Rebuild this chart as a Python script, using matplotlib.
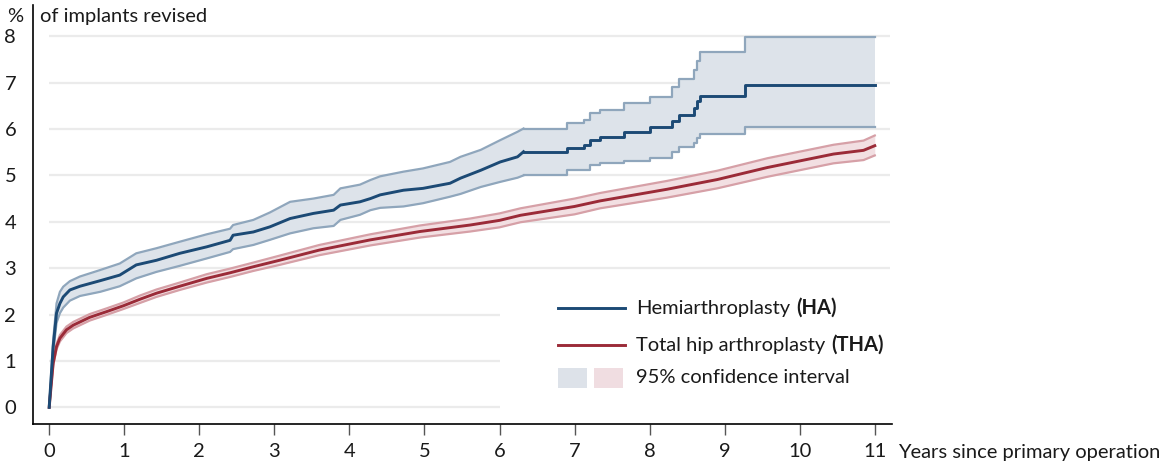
import matplotlib
matplotlib.use("Agg")
import matplotlib.pyplot as plt
from matplotlib.patches import Rectangle

plt.rcParams['font.family'] = ['Lato', 'DejaVu Sans']

# Hemiarthroplasty (HA): curve with 95% CI (coarse steps late in follow-up)
ha_years = [0, 0.053, 0.098, 0.143, 0.187, 0.276, 0.41, 0.68, 0.94, 1.16,
            1.43, 1.74, 2.1, 2.41, 2.45, 2.72, 2.94, 3.21, 3.52, 3.79,
            3.88, 4.14, 4.28, 4.41, 4.72, 4.98, 5.34, 5.48, 5.75, 6.01,
            6.24, 6.32, 6.9, 7.12, 7.2, 7.34, 7.66, 8.0, 8.3, 8.39,
            8.59, 8.63, 8.67, 9.27, 11.0]
ha_mid = [0, 1.31, 2.03, 2.24, 2.38, 2.53, 2.61, 2.73, 2.85, 3.07,
          3.17, 3.32, 3.46, 3.6, 3.71, 3.78, 3.89, 4.07, 4.18, 4.25,
          4.36, 4.43, 4.5, 4.58, 4.68, 4.72, 4.83, 4.94, 5.11, 5.29,
          5.4, 5.51, 5.58, 5.65, 5.76, 5.83, 5.94, 6.05, 6.17, 6.3,
          6.45, 6.6, 6.72, 6.94, 6.94]
ha_upper = [0, 1.45, 2.24, 2.49, 2.6, 2.72, 2.82, 2.96, 3.1, 3.32,
            3.43, 3.57, 3.73, 3.85, 3.93, 4.04, 4.2, 4.43, 4.5, 4.58,
            4.72, 4.8, 4.9, 4.98, 5.08, 5.15, 5.29, 5.4, 5.55, 5.76,
            5.94, 6.01, 6.12, 6.19, 6.35, 6.42, 6.57, 6.7, 6.9, 7.07,
            7.27, 7.46, 7.67, 7.98, 7.98]
ha_lower = [0, 1.17, 1.82, 2.03, 2.15, 2.3, 2.4, 2.49, 2.61, 2.78,
            2.92, 3.05, 3.21, 3.35, 3.41, 3.5, 3.61, 3.75, 3.86, 3.91,
            4.04, 4.15, 4.25, 4.3, 4.33, 4.4, 4.54, 4.6, 4.75, 4.86,
            4.95, 5.0, 5.11, 5.11, 5.22, 5.27, 5.3, 5.38, 5.5, 5.61,
            5.7, 5.81, 5.9, 6.05, 6.05]
ha_step_from = 6.32   # from here on the estimate is drawn as visible steps

# Total hip arthroplasty (THA)
tha_years = [0, 0.053, 0.098, 0.143, 0.23, 0.32, 0.54, 0.76, 0.99, 1.21,
             1.43, 1.74, 2.1, 2.41, 2.72, 3.07, 3.6, 4.28, 4.94, 5.61,
             6.0, 6.28, 7.0, 7.34, 8.23, 8.9, 9.57, 10.45, 10.85, 11.0]
tha_mid = [0, 0.95, 1.31, 1.49, 1.67, 1.77, 1.94, 2.06, 2.19, 2.33,
           2.46, 2.61, 2.78, 2.9, 3.03, 3.17, 3.39, 3.61, 3.79, 3.93,
           4.03, 4.14, 4.33, 4.45, 4.7, 4.91, 5.17, 5.46, 5.54, 5.64]
tha_upper = [0, 1.0, 1.37, 1.56, 1.74, 1.84, 2.01, 2.13, 2.26, 2.41,
             2.54, 2.69, 2.87, 2.99, 3.12, 3.27, 3.5, 3.73, 3.92, 4.07,
             4.18, 4.29, 4.5, 4.62, 4.88, 5.1, 5.37, 5.66, 5.75, 5.86]
tha_lower = [0, 0.9, 1.25, 1.42, 1.6, 1.7, 1.87, 1.99, 2.12, 2.25,
             2.38, 2.53, 2.69, 2.81, 2.94, 3.07, 3.28, 3.49, 3.66, 3.79,
             3.88, 3.99, 4.16, 4.29, 4.52, 4.72, 4.97, 5.26, 5.33, 5.43]

x_ticks = list(range(0, 12))
y_ticks = list(range(0, 9))

HA_LINE = '#1c4a75'
HA_EDGE = '#8fa6bc'
HA_FILL = '#dde3ea'
THA_LINE = '#9b2b38'
THA_EDGE = '#d6a0a7'
THA_FILL = '#f2dfe2'
TXT = '#1a1a1a'
FS = 14.5

fig = plt.figure(figsize=(11.75, 4.68), dpi=100)
ax = fig.add_axes([0.028, 0.094, 0.731, 0.895])
ax.set_xlim(-0.217, 11.227)
ax.set_ylim(-0.36, 8.67)

# gridlines (lower ones stop where the legend starts)
for y in y_ticks:
    right = 6 if y <= 2 else 11.2
    ax.hlines(y, 0, right, color='#ebebeb', lw=1.6, zorder=0)

k = ha_years.index(ha_step_from)
parts = [(slice(0, k + 1), 'default', None), (slice(k, None), 'steps-post', 'post')]

# HA band + lines
for sl, ds, st in parts:
    ax.fill_between(ha_years[sl], ha_lower[sl], ha_upper[sl], step=st,
                    color=HA_FILL, lw=0, zorder=1)
    ax.plot(ha_years[sl], ha_upper[sl], drawstyle=ds, color=HA_EDGE, lw=1.6, zorder=2)
    ax.plot(ha_years[sl], ha_lower[sl], drawstyle=ds, color=HA_EDGE, lw=1.6, zorder=2)

# THA band + lines
ax.fill_between(tha_years, tha_lower, tha_upper, color=THA_FILL, lw=0, zorder=3)
ax.plot(tha_years, tha_upper, color=THA_EDGE, lw=1.6, zorder=4)
ax.plot(tha_years, tha_lower, color=THA_EDGE, lw=1.6, zorder=4)
ax.plot(tha_years, tha_mid, color=THA_LINE, lw=2.1, zorder=5)
for sl, ds, st in parts:
    ax.plot(ha_years[sl], ha_mid[sl], drawstyle=ds, color=HA_LINE, lw=2.1, zorder=6)

# axes styling
for s in ['top', 'right']:
    ax.spines[s].set_visible(False)
ax.spines['left'].set_linewidth(1.2)
ax.spines['bottom'].set_linewidth(1.2)
ax.set_xticks(x_ticks)
ax.set_yticks(y_ticks)
ax.tick_params(axis='y', length=0, pad=12, labelsize=FS, labelcolor=TXT)
ax.tick_params(axis='x', length=8, width=1.0, color='#555555', pad=6,
               labelsize=FS, labelcolor=TXT)

fig.text(0.006, 0.965, '%', fontsize=FS, color=TXT, va='center')
fig.text(0.034, 0.965, 'of implants revised', fontsize=FS, color=TXT, va='center')
fig.text(0.764, 0.034, 'Years since primary operation', fontsize=FS, color=TXT, va='center')

# legend, drawn by hand
ax.plot([6.78, 7.67], [2.14, 2.14], color=HA_LINE, lw=2.1)
ax.plot([6.78, 7.67], [1.34, 1.34], color=THA_LINE, lw=2.1)
ax.add_patch(Rectangle((6.78, 0.42), 0.39, 0.43, color='#dde2e9', lw=0))
ax.add_patch(Rectangle((7.26, 0.42), 0.39, 0.43, color='#f0dde1', lw=0))
t1 = ax.text(7.82, 2.14, 'Hemiarthroplasty', fontsize=FS, color=TXT, va='center')
ax.annotate('(HA)', xy=(1, 0.5), xycoords=t1, xytext=(4, 0), textcoords='offset points',
            fontsize=FS, color=TXT, fontweight='bold', va='center')
t2 = ax.text(7.82, 1.34, 'Total hip arthroplasty', fontsize=FS, color=TXT, va='center')
ax.annotate('(THA)', xy=(1, 0.5), xycoords=t2, xytext=(4, 0), textcoords='offset points',
            fontsize=FS, color=TXT, fontweight='bold', va='center')
ax.text(7.82, 0.635, '95% confidence interval', fontsize=FS, color=TXT, va='center')

fig.savefig('out.png', dpi=100)
